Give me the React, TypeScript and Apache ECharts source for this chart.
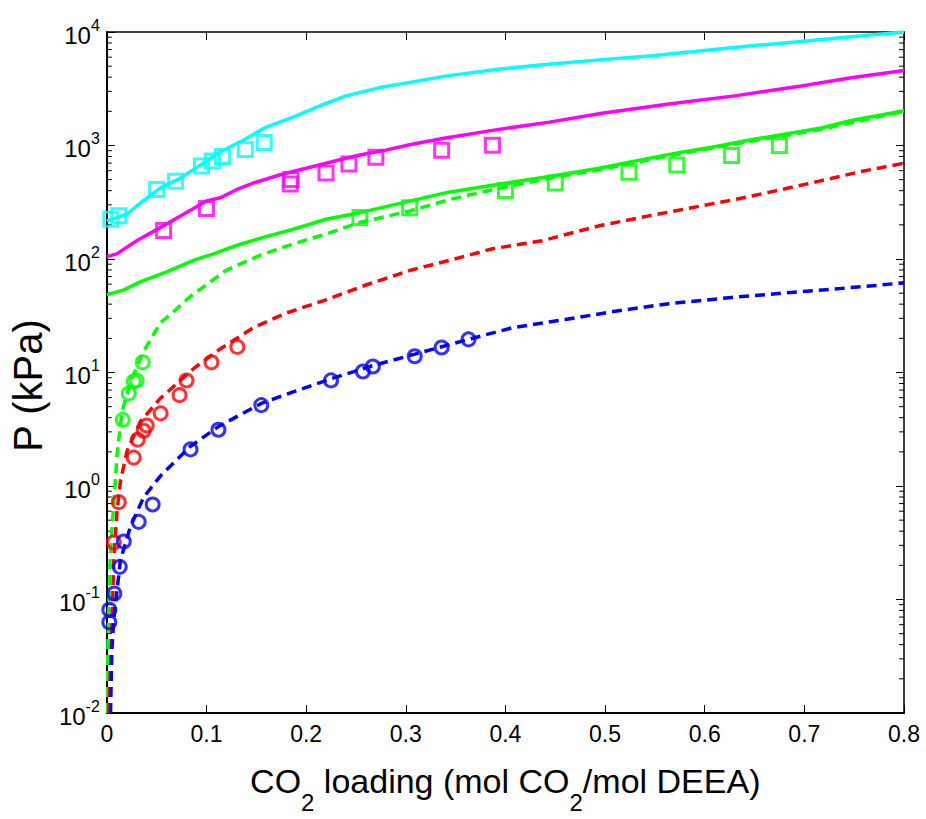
import React, { useEffect, useRef } from 'react';
import * as echarts from 'echarts';

// ---- data (x = CO2 loading, y = P in kPa) ----
const cyanLine = [[0,217],[0.020,248],[0.034,313],[0.054,423],[0.074,516],[0.094,674],[0.114,881],[0.137,1112],[0.160,1454],[0.187,1778],[0.214,2240],[0.240,2737],[0.274,3237],[0.297,3510],[0.340,4085],[0.390,4674],[0.440,5164],[0.497,5710],[0.547,6186],[0.597,6834],[0.647,7557],[0.697,8235],[0.747,9100],[0.800,10000]];
const cyanSquares = [[0.004,224],[0.012,240],[0.050,409],[0.069,483],[0.095,661],[0.106,730],[0.116,798],[0.139,923],[0.158,1062]];

const magentaLine = [[0,105],[0.010,111],[0.030,145],[0.054,190],[0.077,248],[0.100,324],[0.114,346],[0.130,408],[0.147,467],[0.174,552],[0.200,631],[0.227,722],[0.254,824],[0.280,910],[0.305,1020],[0.337,1151],[0.387,1359],[0.444,1607],[0.497,1925],[0.564,2319],[0.630,2737],[0.697,3345],[0.747,3957],[0.800,4581]];
const magentaSquares = [[0.057,178],[0.100,279],[0.184,458],[0.185,501],[0.220,571],[0.243,688],[0.270,786],[0.336,910],[0.387,1006]];

const greenLine = [[0,48.3],[0.017,53.4],[0.034,63.1],[0.060,77.1],[0.087,97.4],[0.107,111],[0.130,131.5],[0.157,155],[0.187,183],[0.220,224],[0.254,256],[0.305,325],[0.343,388],[0.387,446],[0.444,534],[0.494,631],[0.527,721],[0.570,852],[0.610,975],[0.644,1112],[0.677,1246],[0.717,1425],[0.747,1660],[0.800,2027]];
const greenDashed = [[0.0008,0.01],[0.001,0.035],[0.003,0.196],[0.0053,0.437],[0.0077,0.851],[0.0103,1.90],[0.0153,4.52],[0.0237,8.24],[0.0363,15.0],[0.0537,27.4],[0.0637,32.4],[0.0837,46.7],[0.120,79.7],[0.154,108],[0.187,136],[0.220,166],[0.254,210],[0.304,265],[0.344,334],[0.387,408],[0.444,515],[0.494,610],[0.570,830],[0.644,1080],[0.717,1390],[0.800,2000]];
const greenSquares = [[0.254,232],[0.304,283],[0.400,401],[0.450,467],[0.524,582],[0.572,674],[0.627,818],[0.675,1000]];
const greenCircles = [[0.016,3.83],[0.022,6.53],[0.027,8.35],[0.030,8.52],[0.036,12.3]];

const redDashed = [[0.002,0.01],[0.005,0.052],[0.007,0.224],[0.0103,0.61],[0.0137,1.11],[0.0203,2.03],[0.0337,3.70],[0.0537,5.91],[0.087,10.8],[0.1137,16.1],[0.147,24.8],[0.180,33.4],[0.220,43.7],[0.260,59.0],[0.305,79.7],[0.344,97.4],[0.387,123],[0.437,145],[0.494,196],[0.544,240],[0.587,283],[0.630,334],[0.670,396],[0.714,483],[0.757,590],[0.800,697]];
const redCircles = [[0.007,0.318],[0.012,0.722],[0.027,1.78],[0.031,2.56],[0.037,3.07],[0.040,3.41],[0.054,4.37],[0.073,6.31],[0.080,8.5],[0.105,12.3],[0.131,16.8]];

const blueDashed = [[0.0037,0.01],[0.005,0.0346],[0.007,0.0674],[0.0137,0.224],[0.0237,0.438],[0.037,0.798],[0.054,1.23],[0.084,2.24],[0.112,3.34],[0.155,5.34],[0.187,6.74],[0.225,8.81],[0.267,11.5],[0.309,14.5],[0.363,19.6],[0.407,24.8],[0.460,29.3],[0.510,34.6],[0.564,40.4],[0.627,45.8],[0.677,49.9],[0.727,54.1],[0.777,59.0],[0.800,61.8]];
const blueCircles = [[0.0025,0.063],[0.0025,0.0813],[0.0075,0.113],[0.013,0.194],[0.017,0.324],[0.032,0.483],[0.046,0.687],[0.084,2.10],[0.112,3.13],[0.155,5.16],[0.225,8.52],[0.257,10.2],[0.267,11.3],[0.309,13.9],[0.336,16.6],[0.363,19.6]];

// axis ticks
const X_MIN = 0, X_MAX = 0.8, X_STEP = 0.1;
const Y_MIN = 0.01, Y_MAX = 10000;
const DECADES = [0.01, 0.1, 1, 10, 100, 1000];
const MINOR_MULTS = [2, 3, 4, 5, 6, 7, 8, 9];

const FONT = "'Liberation Sans', Arial, Helvetica, sans-serif";
const CYAN = '#00FFFF', MAGENTA = '#FF00FF', GREEN = '#00FF00', RED = '#FF0000', BLUE = '#0000FF';

function lineSeries(data: number[][], color: string, dashed: boolean) {
  return {
    type: 'line', data, showSymbol: false, symbol: 'none', silent: true,
    lineStyle: { color, width: 3.5, type: dashed ? [10, 6] : 'solid' },
    z: 2,
  };
}
function markerSeries(data: number[][], color: string, symbol: string, size: number) {
  return {
    type: 'scatter', data, symbol, symbolSize: size, silent: true,
    itemStyle: { color: 'rgba(0,0,0,0)', borderColor: color, borderWidth: 3 },
    z: 3,
  };
}

export default function App() {
  const ref = useRef<HTMLDivElement>(null);
  useEffect(() => {
    if (!ref.current) return;
    const chart = echarts.init(ref.current, null, { renderer: 'svg' });
    const minorTicks: number[][] = [];
    DECADES.forEach((d) => MINOR_MULTS.forEach((m) => minorTicks.push([0, d * m])));

    const axisLine = { show: true, onZero: false, lineStyle: { color: '#000', width: 2 } };
    const option: any = {
      animation: false,
      backgroundColor: '#fff',
      grid: { left: 103, right: 22, top: 32, bottom: 97, containLabel: false },
      xAxis: [
        {
          type: 'value', min: X_MIN, max: X_MAX, interval: X_STEP, position: 'bottom',
          axisLine,
          axisTick: { show: true, inside: true, length: 8, lineStyle: { color: '#000', width: 1 } },
          splitLine: { show: false },
          axisLabel: {
            color: '#000', fontSize: 23, fontFamily: FONT, margin: 9,
            formatter: (v: number) => (v === 0 ? '0' : v.toFixed(1)),
          },
          name: '{a|CO}{sub|2}{a| loading (mol CO}{sub|2}{a|/mol DEEA)}{sp| }',
          nameLocation: 'middle', nameGap: 51,
          nameTextStyle: {
            color: '#000', fontSize: 34, fontFamily: FONT, verticalAlign: 'top',
            rich: {
              a: { fontSize: 34, fontFamily: FONT, color: '#000', lineHeight: 34, verticalAlign: 'top' },
              sub: { fontSize: 24, fontFamily: FONT, color: '#000', lineHeight: 24, verticalAlign: 'bottom' },
              sp: { fontSize: 1, lineHeight: 50, verticalAlign: 'top' },
            },
          },
        },
        {
          type: 'value', min: X_MIN, max: X_MAX, interval: X_STEP, position: 'top',
          axisLine: { show: true, onZero: false, lineStyle: { color: '#000', width: 1.5 } },
          axisTick: { show: true, inside: true, length: 8, lineStyle: { color: '#000', width: 1 } },
          axisLabel: { show: false }, splitLine: { show: false },
        },
      ],
      yAxis: [
        {
          type: 'log', logBase: 10, min: Y_MIN, max: Y_MAX, splitNumber: 6, position: 'left',
          axisLine,
          axisTick: { show: true, inside: true, length: 8, lineStyle: { color: '#000', width: 1 } },
          splitLine: { show: false },
          axisLabel: {
            color: '#000', margin: 7, fontFamily: FONT,
            formatter: (v: number) => `{b|10}{s|${Math.round(Math.log10(v))}}`,
            rich: {
              b: { fontSize: 24, fontFamily: FONT, color: '#000', lineHeight: 30, verticalAlign: 'bottom' },
              s: { fontSize: 16, fontFamily: FONT, color: '#000', lineHeight: 16, verticalAlign: 'top' },
            },
          },
          name: 'P (kPa)', nameLocation: 'middle', nameRotate: 90, nameGap: 45,
          nameTextStyle: { color: '#000', fontSize: 40, fontFamily: FONT, padding: [0, 26, 0, 0] },
        },
        {
          type: 'log', logBase: 10, min: Y_MIN, max: Y_MAX, splitNumber: 6, position: 'right',
          axisLine: { show: true, onZero: false, lineStyle: { color: '#000', width: 1.5 } },
          axisTick: { show: true, inside: true, length: 8, lineStyle: { color: '#000', width: 1 } },
          axisLabel: { show: false }, splitLine: { show: false },
        },
      ],
      series: [
        {
          type: 'custom', silent: true, data: minorTicks, z: 1,
          renderItem: (params: any, api: any) => {
            const v = api.value(1);
            const l = api.coord([X_MIN, v]);
            const r = api.coord([X_MAX, v]);
            return {
              type: 'group',
              children: [
                { type: 'line', shape: { x1: l[0], y1: l[1], x2: l[0] + 5, y2: l[1] }, style: { stroke: '#000', lineWidth: 1 } },
                { type: 'line', shape: { x1: r[0], y1: r[1], x2: r[0] - 5, y2: r[1] }, style: { stroke: '#000', lineWidth: 1 } },
              ],
            };
          },
        },
        lineSeries(cyanLine, CYAN, false),
        lineSeries(magentaLine, MAGENTA, false),
        lineSeries(greenLine, GREEN, false),
        lineSeries(greenDashed, GREEN, true),
        lineSeries(redDashed, RED, true),
        lineSeries(blueDashed, BLUE, true),
        markerSeries(cyanSquares, CYAN, 'rect', 14),
        markerSeries(magentaSquares, MAGENTA, 'rect', 14),
        markerSeries(greenSquares, GREEN, 'rect', 14),
        markerSeries(greenCircles, GREEN, 'circle', 13),
        markerSeries(redCircles, RED, 'circle', 13),
        markerSeries(blueCircles, BLUE, 'circle', 13),
      ],
    };
    chart.setOption(option);
    return () => chart.dispose();
  }, []);
  return (
    <div
      ref={ref}
      style={{ position: 'fixed', left: 0, top: 0, width: 926, height: 819, background: '#fff' }}
    />
  );
}
